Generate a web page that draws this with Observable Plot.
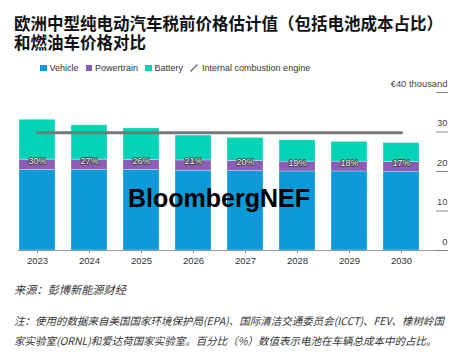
<!DOCTYPE html>
<html>
<head>
<meta charset="utf-8">
<script src="https://cdn.jsdelivr.net/npm/d3@7"></script>
<script src="https://cdn.jsdelivr.net/npm/@observablehq/plot@0.6"></script>
<style>
  html, body { margin: 0; padding: 0; background: #fff; }
  body { width: 468px; height: 353px; position: relative; overflow: hidden;
         font-family: "Liberation Sans", "Noto Sans CJK SC", sans-serif; }
  .title { position: absolute; left: 14px; font-family: "Noto Sans CJK SC", sans-serif;
           font-weight: 700; font-size: 16.5px; line-height: 19px; height: 19px; color: #111; white-space: nowrap; }
  #legend { position: absolute; left: 40px; top: 62px; height: 12px; display: flex; align-items: center;
            font-size: 9px; color: #333; white-space: nowrap; }
  #legend .item { display: flex; align-items: center; margin-right: 7px; }
  #legend .sw { width: 6.5px; height: 6.5px; margin-right: 3px; display: inline-block; }
  #chart { position: absolute; left: 0; top: 74px; }
  .foot { position: absolute; left: 14px; font-family: "Noto Sans CJK SC", sans-serif; font-style: italic;
          line-height: 20px; height: 20px; color: #333; white-space: nowrap; }
</style>
</head>
<body>
<div class="title" style="top:13.5px">欧洲中型纯电动汽车税前价格估计值（包括电池成本占比）</div>
<div class="title" style="top:32.5px">和燃油车价格对比</div>
<div id="legend"></div>
<div id="chart"></div>
<div class="foot" style="top:279px; font-size:11.2px">来源：彭博新能源财经</div>
<div class="foot" style="top:311px; font-size:10.5px">注：使用的数据来自美国国家环境保护局(EPA)、国际清洁交通委员会(ICCT)、FEV、橡树岭国</div>
<div class="foot" style="top:331px; font-size:10.5px">家实验室(ORNL)和爱达荷国家实验室。百分比（%）数值表示电池在车辆总成本中的占比。</div>
<script>
const years = ["2023", "2024", "2025", "2026", "2027", "2028", "2029", "2030"];
const vehicle = [20.4, 20.4, 20.4, 20.2, 20.1, 20.0, 20.0, 19.9];
const powertrain = [2.6, 2.6, 2.5, 2.6, 2.6, 2.5, 2.5, 2.5];
const battery = [10.1, 8.7, 8.0, 6.3, 5.8, 5.4, 5.0, 4.8];
const batteryShare = [30, 27, 26, 21, 20, 19, 18, 17];
const ice = [29.8, 29.8, 29.8, 29.8, 29.8, 29.8, 29.8, 29.8];
const seriesNames = ["Vehicle", "Powertrain", "Battery"];
const seriesColors = ["#0a9ad8", "#8d5cb6", "#00d3b6"];
const iceName = "Internal combustion engine";
const yTicks = [0, 10, 20, 30, 40];

// legend
const legend = document.getElementById("legend");
seriesNames.forEach((n, i) => {
  const it = document.createElement("div");
  it.className = "item";
  it.innerHTML = `<span class="sw" style="background:${seriesColors[i]}"></span>${n}`;
  legend.appendChild(it);
});
const iceItem = document.createElement("div");
iceItem.className = "item";
iceItem.innerHTML = `<svg width="8" height="8" style="margin-right:4px"><line x1="0.5" y1="7.5" x2="7.5" y2="0.5" stroke="#666" stroke-width="1.3"/></svg>${iceName}`;
legend.appendChild(iceItem);

const stacked = [];
years.forEach((y, i) => {
  stacked.push({year: y, series: "Vehicle", value: vehicle[i]});
  stacked.push({year: y, series: "Powertrain", value: powertrain[i]});
  stacked.push({year: y, series: "Battery", value: battery[i]});
});
const rows = years.map((y, i) => ({year: y, ice: ice[i], labelY: vehicle[i] + powertrain[i], pct: batteryShare[i] + "%"}));

const chart = Plot.plot({
  width: 468,
  height: 200,
  marginLeft: 18,
  marginRight: 21,
  marginTop: 18,
  marginBottom: 24,
  style: {fontFamily: "Liberation Sans, sans-serif", fontSize: "9px", color: "#333", background: "transparent"},
  x: {domain: years, paddingInner: 0.31, paddingOuter: 0.208, align: 0.034, label: null},
  y: {domain: [0, 40], label: null, axis: null},
  color: {domain: seriesNames, range: seriesColors},
  marks: [
    Plot.barY(stacked, Plot.stackY({x: "year", y: "value", fill: "series", stroke: "#ffffff", strokeWidth: 0.6, strokeOpacity: 0.5})),
    Plot.lineY(rows, {x: "year", y: "ice", stroke: "#777", strokeWidth: 3}),
    Plot.text(rows, {x: "year", y: "labelY", text: "pct", fill: "white", stroke: "#333", strokeWidth: 1.5, fontSize: 9, dy: 1}),
    Plot.text(["BloombergNEF"], {frameAnchor: "middle", dx: -14, dy: 27, fontSize: 25, fontWeight: "bold", fill: "#000"}),
    Plot.ruleY([0], {stroke: "#999"}),
    Plot.axisX({tickSize: 3, tickPadding: 4, stroke: "#999", fill: "#333", fontSize: 9.5}),
    Plot.axisY(yTicks, {anchor: "right", tickSize: 12, dx: -12, stroke: "#888", tickFormat: () => ""}),
    Plot.text(yTicks, {y: d => d, text: d => d === 40 ? "€40 thousand" : String(d), frameAnchor: "right", textAnchor: "end", dy: -9, fill: "#444", fontSize: 9.4})
  ]
});
document.getElementById("chart").appendChild(chart);
</script>
</body>
</html>
